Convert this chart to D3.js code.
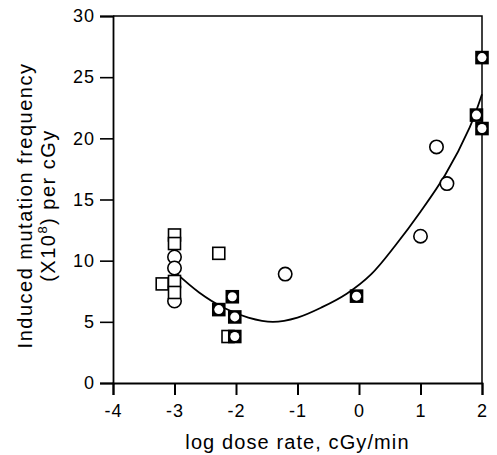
<!DOCTYPE html>
<html>
<head>
<meta charset="utf-8">
<script src="https://cdn.jsdelivr.net/npm/d3@7"></script>
<style>
    body { margin: 0; background: #fff; }
    #chart { width: 497px; height: 455px; }
    text { font-family: "Liberation Sans", Arial, Helvetica, sans-serif; fill: #000; }
</style>
</head>
<body>
<div id="chart"></div>
<script>
// open squares
const squareDose = [-3.0, -3.0, -3.2, -3.0, -3.0, -2.28, -2.13];
const squareFreq = [12.1, 11.4, 8.1, 8.3, 7.4, 10.6, 3.8];

// open circles
const circleDose = [-3.0, -3.0, -3.0, -1.2, 1.0, 1.26, 1.43];
const circleFreq = [10.3, 9.4, 6.7, 8.9, 12.0, 19.3, 16.3];

// square and circle at the same point
const bothDose = [-2.06, -2.28, -2.02, -2.02, -0.04, 2.0, 1.91, 2.0];
const bothFreq = [7.05, 6.0, 5.4, 3.8, 7.1, 26.6, 21.9, 20.8];

// fitted curve
const fitDose = [-3.0, -2.6, -2.2, -1.8, -1.4, -1.0, -0.6, -0.2, 0.2, 0.6, 1.0, 1.4, 1.8, 2.0];
const fitFreq = [9.1, 7.4, 6.15, 5.35, 5.0, 5.35, 6.2, 7.3, 8.9, 11.3, 14.0, 17.0, 20.9, 23.6];

const xTicks = [-4, -3, -2, -1, 0, 1, 2];
const yTicks = [0, 5, 10, 15, 20, 25, 30];

class DoseRateVis {
    constructor(parentElement) {
        this.parentElement = parentElement;
        this.initVis();
    }

    initVis() {
        let vis = this;

        vis.margin = { top: 16, right: 15, bottom: 72, left: 113 };
        vis.width = 369;
        vis.height = 367;

        vis.svg = d3.select("#" + vis.parentElement)
            .append("svg")
            .attr("width", 497)
            .attr("height", 455)
            .append("g")
            .attr("transform", `translate(${vis.margin.left},${vis.margin.top})`);

        vis.xScale = d3.scaleLinear().domain([-4, 2]).range([0, vis.width]);
        vis.yScale = d3.scaleLinear().domain([0, 30]).range([vis.height, 0]);

        vis.wrangleData();
    }

    wrangleData() {
        let vis = this;
        let zip = (xs, ys) => xs.map((x, i) => ({ x: x, y: ys[i] }));
        vis.squares = zip(squareDose, squareFreq);
        vis.circles = zip(circleDose, circleFreq);
        vis.both = zip(bothDose, bothFreq);
        vis.fit = zip(fitDose, fitFreq);
        vis.updateVis();
    }

    updateVis() {
        let vis = this;

        // frame: top and right
        vis.svg.append("path")
            .attr("d", `M0,0H${vis.width}V${vis.height}`)
            .attr("fill", "none")
            .attr("stroke", "#000")
            .attr("stroke-width", 1.5);

        // x axis
        let xAxis = vis.svg.append("g")
            .attr("transform", `translate(0,${vis.height})`)
            .call(d3.axisBottom(vis.xScale).tickValues(xTicks).tickSize(12).tickPadding(9));
        xAxis.select(".domain").attr("stroke-width", 1.8);
        xAxis.selectAll(".tick line").attr("stroke-width", 2);
        xAxis.selectAll("text")
            .style("font-size", "18px")
            .style("letter-spacing", "1px")
            .attr("fill", "#000")
            .text(d => d < 0 ? "-" + Math.abs(d) : d);

        // y axis
        let yAxis = vis.svg.append("g")
            .call(d3.axisLeft(vis.yScale).tickValues(yTicks).tickSize(13).tickPadding(5));
        yAxis.select(".domain").attr("stroke-width", 1.8);
        yAxis.selectAll(".tick line").attr("stroke-width", 1.6);
        yAxis.selectAll("text")
            .style("font-size", "18px")
            .style("letter-spacing", "1px")
            .attr("fill", "#000");

        // axis titles
        vis.svg.append("text")
            .attr("x", vis.width / 2)
            .attr("y", vis.height + 66)
            .attr("text-anchor", "middle")
            .style("font-size", "20px")
            .style("letter-spacing", "1.1px")
            .text("log dose rate, cGy/min");

        let yTitle = vis.svg.append("text")
            .attr("transform", `translate(-81,${vis.height / 2 + 6}) rotate(-90)`)
            .attr("text-anchor", "middle")
            .style("font-size", "20px")
            .style("letter-spacing", "1.5px");
        yTitle.append("tspan")
            .attr("x", 0)
            .attr("y", 0)
            .text("Induced mutation frequency");
        let line2 = yTitle.append("tspan")
            .attr("x", 0)
            .attr("y", 23)
            .text("(X10");
        line2.append("tspan").attr("dy", -8).style("font-size", "13px").text("8");
        line2.append("tspan").attr("dy", 8).text(") per cGy");

        // fitted curve
        let line = d3.line()
            .x(d => vis.xScale(d.x))
            .y(d => vis.yScale(d.y))
            .curve(d3.curveCatmullRom.alpha(0.5));
        vis.svg.append("path")
            .datum(vis.fit)
            .attr("d", line)
            .attr("fill", "none")
            .attr("stroke", "#000")
            .attr("stroke-width", 1.8);

        // markers
        vis.svg.selectAll(".circle-pt")
            .data(vis.circles)
            .enter()
            .append("circle")
            .attr("class", "circle-pt")
            .attr("cx", d => vis.xScale(d.x))
            .attr("cy", d => vis.yScale(d.y))
            .attr("r", 6.7)
            .attr("fill", "#fff")
            .attr("stroke", "#000")
            .attr("stroke-width", 1.6);

        let s = 12;
        vis.svg.selectAll(".square-pt")
            .data(vis.squares)
            .enter()
            .append("rect")
            .attr("class", "square-pt")
            .attr("x", d => vis.xScale(d.x) - s / 2)
            .attr("y", d => vis.yScale(d.y) - s / 2)
            .attr("width", s)
            .attr("height", s)
            .attr("fill", "#fff")
            .attr("stroke", "#000")
            .attr("stroke-width", 1.6);

        let both = vis.svg.selectAll(".both-pt")
            .data(vis.both)
            .enter()
            .append("g")
            .attr("class", "both-pt")
            .attr("transform", d => `translate(${vis.xScale(d.x)},${vis.yScale(d.y)})`);
        both.append("rect")
            .attr("x", -6.8).attr("y", -6.8)
            .attr("width", 13.6).attr("height", 13.6)
            .attr("fill", "#000");
        both.append("circle")
            .attr("r", 4.5)
            .attr("fill", "#fff")
            .attr("stroke", "none");
    }
}

new DoseRateVis("chart");
</script>
</body>
</html>
